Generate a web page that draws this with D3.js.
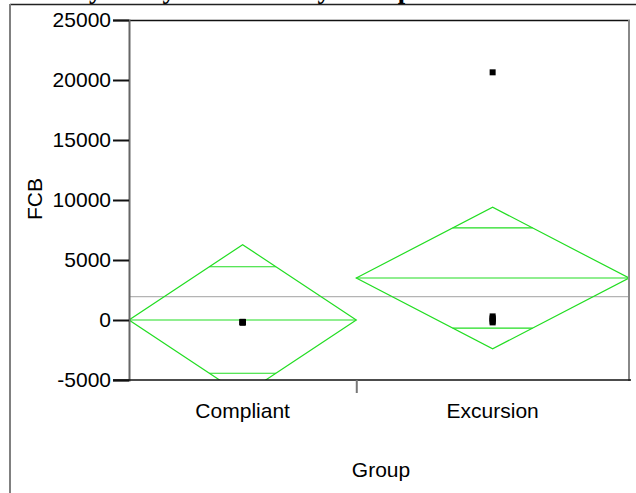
<!DOCTYPE html>
<html>
<head>
<meta charset="utf-8">
<script src="https://cdn.jsdelivr.net/npm/d3@7"></script>
<style>
  html, body { margin: 0; padding: 0; background: #fff; }
  svg { display: block; }
  text { font-family: "Liberation Sans", Arial, sans-serif; }
</style>
</head>
<body>
<svg id="chart" width="636" height="493"></svg>
<script>
// ---- data ----
const groups = ["Compliant", "Excursion"];
const groupCounts = [5, 6];
const groupMeans = [0, 3500];
const ciHalfWidths = [6275, 5900];
const grandMean = 1950;
const compliantValues = [-150, -200, -180, -220, -170];
const excursionValues = [20640, 150, 50, -100, -200, 300];
const yTicks = [-5000, 0, 5000, 10000, 15000, 20000, 25000];
const titleText = "Oneway Analysis of FCB By Group";
const xLabel = "Group";
const yLabel = "FCB";

const svg = d3.select("#chart");
const W = 636, H = 493;
const plot = { left: 129, right: 629, top: 20, bottom: 380 };

const total = d3.sum(groupCounts);
const x = d3.scaleLinear().domain([0, total]).range([plot.left, plot.right]);
const y = d3.scaleLinear().domain([-5000, 25000]).range([plot.bottom, plot.top]);

const starts = groupCounts.map((c, i) => d3.sum(groupCounts.slice(0, i)));
const groupData = groups.map((g, i) => ({
  name: g, start: starts[i], end: starts[i] + groupCounts[i],
  mid: starts[i] + groupCounts[i] / 2, mean: groupMeans[i], half: ciHalfWidths[i]
}));
const valuesByGroup = [compliantValues, excursionValues];

svg.append("rect").attr("width", W).attr("height", H).attr("fill", "#fff");

// title (clipped at top, as in the reference)
svg.append("text")
  .attr("x", 9).attr("y", -2)
  .style("font-family", "'Liberation Serif', 'Times New Roman', serif")
  .style("font-weight", "bold").style("font-size", "26.7px")
  .attr("fill", "#000")
  .text(titleText);

// outer frame
svg.append("line").attr("x1", 10).attr("x2", W).attr("y1", 4.5).attr("y2", 4.5)
  .attr("stroke", "#222").attr("stroke-width", 1.5);
svg.append("line").attr("x1", 10).attr("x2", 10).attr("y1", 4).attr("y2", H)
  .attr("stroke", "#808080").attr("stroke-width", 2);

// clip
svg.append("clipPath").attr("id", "plotClip").append("rect")
  .attr("x", plot.left).attr("y", plot.top)
  .attr("width", plot.right - plot.left + 1).attr("height", plot.bottom - plot.top);

const g = svg.append("g").attr("clip-path", "url(#plotClip)");

// grand mean
g.append("line")
  .attr("x1", plot.left).attr("x2", plot.right)
  .attr("y1", y(grandMean)).attr("y2", y(grandMean))
  .attr("stroke", "#b4b4b4").attr("stroke-width", 1.2);

const green = "#22dd22";
// diamonds
groupData.forEach(d => {
  const pts = [
    [x(d.start), y(d.mean)],
    [x(d.mid), y(d.mean + d.half)],
    [x(d.end), y(d.mean)],
    [x(d.mid), y(d.mean - d.half)]
  ];
  g.append("path")
    .attr("d", d3.line()(pts) + "Z")
    .attr("fill", "none").attr("stroke", green).attr("stroke-width", 1.2);
  g.append("line")
    .attr("x1", x(d.start)).attr("x2", x(d.end))
    .attr("y1", y(d.mean)).attr("y2", y(d.mean))
    .attr("stroke", green).attr("stroke-width", 1.2);
  // overlap marks
  const off = d.half / Math.SQRT2;
  const frac = 1 - off / d.half;
  const hw = (x(d.end) - x(d.start)) / 2 * frac;
  [d.mean + off, d.mean - off].forEach(v => {
    g.append("line")
      .attr("x1", x(d.mid) - hw).attr("x2", x(d.mid) + hw)
      .attr("y1", y(v)).attr("y2", y(v))
      .attr("stroke", green).attr("stroke-width", 1.2);
  });
});

// points
groupData.forEach((d, i) => {
  g.selectAll(null).data(valuesByGroup[i]).enter().append("rect")
    .attr("x", x(d.mid) - 3)
    .attr("y", v => y(v) - 3)
    .attr("width", 6).attr("height", 6)
    .attr("fill", "#000");
});

// frame lines
svg.append("line").attr("x1", plot.left).attr("x2", plot.right + 1)
  .attr("y1", plot.top + 0.5).attr("y2", plot.top + 0.5)
  .attr("stroke", "#111").attr("stroke-width", 1.3);
svg.append("line").attr("x1", plot.right).attr("x2", plot.right)
  .attr("y1", plot.top).attr("y2", plot.bottom + 1)
  .attr("stroke", "#888").attr("stroke-width", 2);

// y axis
const yAxis = svg.append("g").attr("transform", `translate(${plot.left},0)`)
  .call(d3.axisLeft(y).tickValues(yTicks).tickSize(16).tickPadding(2).tickFormat(d => String(d)));
yAxis.select(".domain").attr("stroke", "#666").attr("stroke-width", 2);
yAxis.selectAll(".tick line").attr("stroke", "#111").attr("stroke-width", 2);
yAxis.selectAll(".tick text")
  .style("font-family", "'Liberation Sans', Arial, sans-serif")
  .style("font-size", "21px").attr("fill", "#000");

// x axis
svg.append("line").attr("x1", plot.left - 16).attr("x2", plot.right + 2)
  .attr("y1", plot.bottom).attr("y2", plot.bottom)
  .attr("stroke", "#111").attr("stroke-width", 1.5);
const xAxis = svg.append("g").attr("transform", `translate(0,${plot.bottom})`)
  .call(d3.axisBottom(x).tickValues(starts.slice(1)).tickSize(13).tickFormat(""));
xAxis.select(".domain").remove();
xAxis.selectAll(".tick line").attr("stroke", "#777").attr("stroke-width", 2);

// category labels
svg.selectAll(".cat").data(groupData).enter().append("text")
  .attr("class", "cat")
  .attr("x", d => x(d.mid)).attr("y", 418)
  .attr("text-anchor", "middle")
  .style("font-size", "21px").attr("fill", "#000")
  .text(d => d.name);

// axis titles
svg.append("text").attr("x", 381).attr("y", 477)
  .attr("text-anchor", "middle").style("font-size", "21px").attr("fill", "#000")
  .text(xLabel);
svg.append("text")
  .attr("transform", "translate(42,199) rotate(-90)")
  .attr("text-anchor", "middle").style("font-size", "21px").attr("fill", "#000")
  .text(yLabel);
</script>
</body>
</html>
